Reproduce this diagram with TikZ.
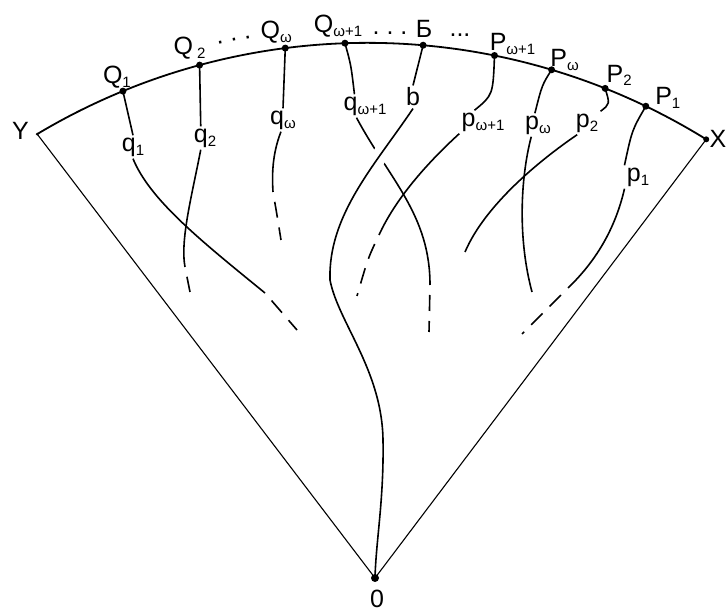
\documentclass[tikz,border=0pt]{standalone}
\usepackage{fontspec}
\setmainfont{Liberation Sans}
\usetikzlibrary{calc}
\newcommand{\lblfont}{\fontsize{12.5}{14}\selectfont}
\newcommand{\lo}[1]{\raisebox{-0.3ex}{\fontsize{7.5}{8}\selectfont #1}}
\tikzset{
    lbl/.style = {inner sep=1pt, font=\lblfont},
    curve/.style = {draw, line width=0.8pt},
    tail/.style = {draw, line width=0.8pt, dash pattern=on 8pt off 5pt, dash phase=8pt},
    over/.style = {preaction={draw, white, line width=8pt}},
    rim/.style = {draw, line width=0.9pt},
    fan/.style = {draw, line width=0.55pt}
}

\begin{document}
\begin{tikzpicture}[x=0.5pt, y=-0.5pt]
    \useasboundingbox (0,0) rectangle (726,613);
    \coordinate (C) at (367.4,685.8);
    \coordinate (O) at (375,578);
    \coordinate (Y) at ($(C)+(-120.9:643)$);
    \coordinate (X) at ($(C)+(-58.2:643)$);
    \draw[rim] (Y) arc[start angle=-120.9, end angle=-58.2, radius=643];
    \draw[fan] (Y) -- (O) -- (X);
    \fill (Y) circle[radius=1.5];
    \fill (X) circle[radius=3];
    \fill (O) circle[radius=4];
    \node[lbl, anchor=east] (lY) at ($(Y)+(-6,-3)$) {Y};
    \node[lbl, anchor=west] (lX) at ($(X)+(1,0)$) {X};
    \node[lbl] (lO) at ($(O)+(2,21)$) {0};
    \foreach \n/\a/\dx/\dy/\txt in {
        Q1/-112.35/-6/-14/{Q\lo{1}},
        Q2/-105.13/-10/-17/{Q\,\lo{2}},
        Qw/-97.34/-9/-16/{Q\lo{ω}},
        Qw1/-92.0/-7/-17/{Q\lo{ω+1}},
        B/-85.03/1/-16/{Б},
        Pw1/-78.6/18/-12/{P\lo{ω+1}},
        Pw/-73.35/13/-10/{P\lo{ω}},
        P2/-68.3/14/-13/{P\lo{2}},
        P1/-64.34/22/-8/{P\lo{1}}}{
        \coordinate (\n) at ($(C)+(\a:643)$);
        \fill (\n) circle[radius=3.5];
        \node[lbl] (l\n) at ($(\n)+(\dx,\dy)$) {\txt};
    }
    \node[lbl, rotate=10] (gap1) at (234,40) {.\hspace{3.5pt}.\hspace{3.5pt}.};
    \node[lbl] (gap2) at (390,33) {.\hspace{3.5pt}.\hspace{3.5pt}.};
    \node[lbl] (gap3) at (460,35) {...};
    \node[lbl] (q1) at (133,147) {q\lo{1}};
    \node[lbl] (q2) at (205,138) {q\lo{2}};
    \node[lbl] (qw) at (283,120) {q\lo{ω}};
    \node[lbl] (qw1) at (365,106) {q\lo{ω+1}};
    \node[lbl] (b) at (413,97) {b};
    \node[lbl] (pw1) at (483,122) {p\lo{ω+1}};
    \node[lbl] (pw) at (538,125) {p\lo{ω}};
    \node[lbl] (p2) at (587,123) {p\lo{2}};
    \node[lbl] (p1) at (638,177) {p\lo{1}};
    \draw[curve] (Q1) -- (q1.north);
    \draw[curve] (q1.south) .. controls (150,200) and (200,240) .. (265,293) coordinate (q1e);
    \draw[tail] (q1e) -- (297,330);
    \draw[curve] (Q2) -- (q2.110);
    \draw[curve] (q2.250) .. controls (192,195) and (180,240) .. (185,267) coordinate (q2e);
    \draw[tail] (q2e) -- (190,292);
    \draw[curve] (Qw) -- (qw.north);
    \draw[curve] (qw.260) .. controls (272,155) and (272,175) .. (273,192) coordinate (qwe);
    \draw[tail] (qwe) .. controls (277,215) .. (281,240);
    \draw[curve] (Qw1) .. controls (351,65) .. (qw1.132);
    \draw[curve] (qw1.234) .. controls (390,180) and (430,215) .. (430,285) coordinate (qw1e);
    \draw[tail] (qw1e) -- (429,332);
    \draw[curve] (B) -- (b.north);
    \draw[curve, over] (b.south) .. controls (375,165) and (328,215) .. (330,280) coordinate (bm);
    \draw[curve] (bm) .. controls (338,322) and (382,370) .. (383,440) .. controls (384,500) and (376,540) .. (O);
    \draw[curve] (Pw1) .. controls (493,95) .. (pw1.126);
    \draw[curve] (pw1.south west) .. controls (425,165) and (395,200) .. (379,235) coordinate (pw1e);
    \draw[tail] (pw1e) .. controls (368,258) .. (357,296);
    \draw[curve] (Pw) .. controls (542,85) .. (pw.105);
    \draw[curve] (pw.240) .. controls (520,180) and (518,240) .. (532,292);
    \draw[curve] (P2) .. controls (610,104) .. (p2.north east);
    \draw[curve] (p2.230) .. controls (540,160) and (485,205) .. (465,252);
    \draw[curve] (P1) .. controls (632,130) .. (p1.north west);
    \draw[curve] (p1.south west) .. controls (615,230) and (595,262) .. (568,288) coordinate (p1e);
    \draw[tail] (p1e) -- (522,334);
\end{tikzpicture}
\end{document}
